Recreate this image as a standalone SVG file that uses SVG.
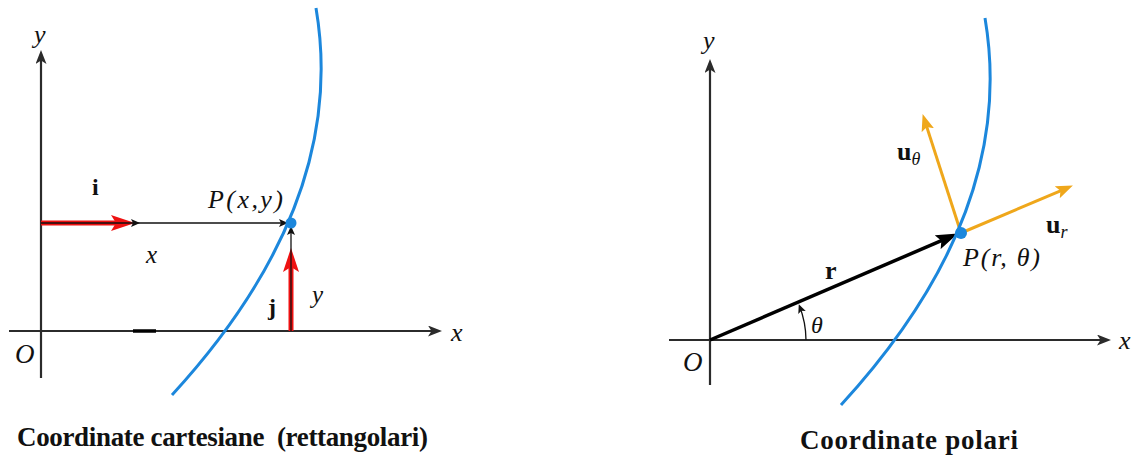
<svg xmlns="http://www.w3.org/2000/svg" width="1135" height="461" viewBox="0 0 1135 461">
<style>
.bg{fill:#ffffff}
.axis{stroke:#2b2b2b;stroke-width:2.2;fill:none}
.thin{stroke:#111;stroke-width:1.3;fill:none}
.curve{stroke:#1c87dc;stroke-width:3;fill:none}
.dot{fill:#1c87dc}
.red{stroke:#ee1111;stroke-width:5;fill:none}
.orange{stroke:#efa71b;stroke-width:3;fill:none}
.rvec{stroke:#000;stroke-width:3.5;fill:none}
.lbl{font-family:"Liberation Serif","Times New Roman",serif;font-style:italic;fill:#111}
.bold{font-family:"Liberation Serif","Times New Roman",serif;font-weight:bold;fill:#111}
.cap{font-family:"Liberation Serif","Times New Roman",serif;font-weight:bold;fill:#111;font-size:27px}
</style>
<defs>
<marker id="axisHead" markerUnits="userSpaceOnUse" markerWidth="14" markerHeight="11" refX="10" refY="5.5" orient="auto"><path d="M0,0 L14,5.5 L0,11 L3.5,5.5 z" fill="#2b2b2b"/></marker>
<marker id="smallHead" markerUnits="userSpaceOnUse" markerWidth="9" markerHeight="8" refX="7" refY="4" orient="auto"><path d="M0,0 L9,4 L0,8 L2,4 z" fill="#111"/></marker>
<marker id="redHead" markerUnits="userSpaceOnUse" markerWidth="24" markerHeight="16" refX="12" refY="8" orient="auto"><path d="M0,0 L24,8 L0,16 L5,8 z" fill="#ee1111"/></marker>
<marker id="orangeHead" markerUnits="userSpaceOnUse" markerWidth="17" markerHeight="13" refX="8" refY="6.5" orient="auto"><path d="M0,0 L17,6.5 L0,13 L3.5,6.5 z" fill="#efa71b"/></marker>
<marker id="blackHead" markerUnits="userSpaceOnUse" markerWidth="22" markerHeight="15" refX="11" refY="7.5" orient="auto"><path d="M0,0 L22,7.5 L0,15 L4,7.5 z" fill="#000"/></marker>
</defs>
<rect class="bg" x="0" y="0" width="1135" height="461"/>

<g id="connectors">
<line class="axis" x1="41" y1="378" x2="41" y2="54" marker-end="url(#axisHead)"/>
<line class="axis" x1="9" y1="331" x2="438" y2="331" marker-end="url(#axisHead)"/>
<line x1="133" y1="331" x2="156" y2="331" stroke="#000" stroke-width="3.5"/>
<line class="red" x1="41" y1="223" x2="123" y2="223" marker-end="url(#redHead)"/>
<line class="thin" x1="41" y1="223" x2="138" y2="223" marker-end="url(#smallHead)"/>
<line class="thin" x1="138" y1="223" x2="286" y2="223" marker-end="url(#smallHead)"/>
<line class="red" x1="291" y1="331" x2="291" y2="260" stroke-width="6" marker-end="url(#redHead)"/>
<line class="thin" x1="291" y1="331" x2="291" y2="228" marker-end="url(#smallHead)"/>
<line class="axis" x1="710" y1="385" x2="710" y2="63" marker-end="url(#axisHead)"/>
<line class="axis" x1="669" y1="340" x2="1107" y2="340" marker-end="url(#axisHead)"/>
<line class="rvec" x1="710" y1="340" x2="947.8" y2="237.9" marker-end="url(#blackHead)"/>
<path class="thin" d="M806,340 A96,96 0 0 0 799.5,306" marker-end="url(#smallHead)"/>
<line class="orange" x1="961" y1="233" x2="1064.6" y2="189.1" marker-end="url(#orangeHead)"/>
<line class="orange" x1="961" y1="233" x2="925.4" y2="122.6" marker-end="url(#orangeHead)"/>
</g>

<g id="curve-left">
<path class="curve" d="M316,8 C335,120 305,250 172,395"/>
</g>
<g id="point-left">
<circle class="dot" cx="291" cy="223" r="5.5"/>
<text class="lbl" x="208" y="208" font-size="26" textLength="75" lengthAdjust="spacing">P(x,y)</text>
</g>
<g id="labels-left">
<text class="lbl" x="34" y="43" font-size="26">y</text>
<text class="lbl" x="451" y="341" font-size="26">x</text>
<text class="lbl" x="15" y="363" font-size="27">O</text>
<text class="bold" x="92" y="195" font-size="24">i</text>
<text class="lbl" x="146" y="263" font-size="25">x</text>
<text class="bold" x="268" y="315" font-size="24">j</text>
<text class="lbl" x="312" y="303" font-size="25">y</text>
</g>

<g id="curve-right">
<path class="curve" d="M985,18 C1004,130 974,260 841,405"/>
</g>
<g id="point-right">
<circle class="dot" cx="961" cy="233" r="6"/>
<text class="lbl" x="963" y="266" font-size="26" textLength="77" lengthAdjust="spacing">P(r, θ)</text>
</g>
<g id="labels-right">
<text class="lbl" x="703" y="49" font-size="26">y</text>
<text class="lbl" x="1119" y="349" font-size="26">x</text>
<text class="lbl" x="683" y="371" font-size="27">O</text>
<text class="bold" x="825" y="279" font-size="26">r</text>
<text class="lbl" x="811" y="333" font-size="24">θ</text>
<text class="bold" x="897" y="160" font-size="26">u<tspan class="lbl" font-weight="normal" font-size="18" dy="5">θ</tspan></text>
<text class="bold" x="1046" y="233" font-size="26">u<tspan class="lbl" font-weight="normal" font-size="18" dy="5">r</tspan></text>
</g>

<g id="captions">
<text class="cap" x="17" y="446" textLength="411" lengthAdjust="spacing" xml:space="preserve">Coordinate cartesiane  (rettangolari)</text>
<text class="cap" x="800" y="449" textLength="218" lengthAdjust="spacing">Coordinate polari</text>
</g>
</svg>
